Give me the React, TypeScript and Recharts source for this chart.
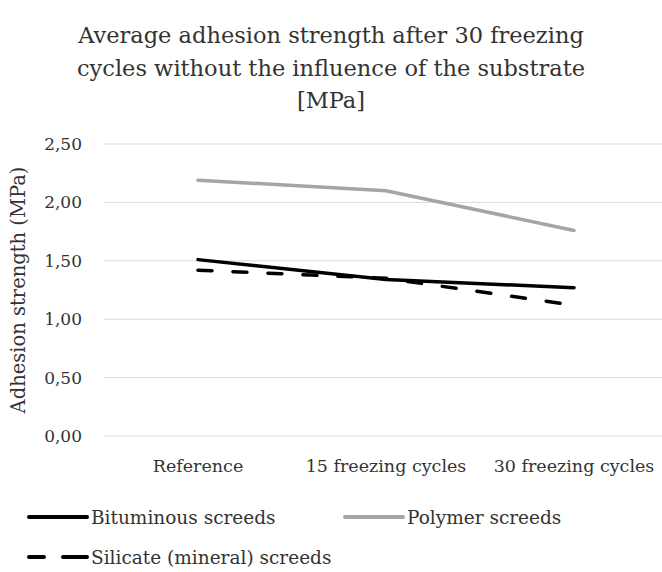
// line chart: adhesion strength of screeds after freezing cycles
import * as React from 'react';
import { LineChart, Line, XAxis, YAxis, CartesianGrid } from 'recharts';

const categories = ['Reference', '15 freezing cycles', '30 freezing cycles'];
const bituminous = [1.51, 1.34, 1.27];
const polymer = [2.19, 2.1, 1.76];
const silicate = [1.42, 1.35, 1.12];
const yTicks = [0, 0.5, 1, 1.5, 2, 2.5];

const series = [
  { key: 'bituminous', name: 'Bituminous screeds', color: '#000000', dash: undefined },
  { key: 'polymer', name: 'Polymer screeds', color: '#a5a5a5', dash: undefined },
  { key: 'silicate', name: 'Silicate (mineral) screeds', color: '#000000', dash: '14 21' },
];

const FONT = '"DejaVu Serif", serif';
const TEXT = '#333333';

const data = categories.map((name, i) => ({
  name,
  bituminous: bituminous[i],
  polymer: polymer[i],
  silicate: silicate[i],
}));

// legend placed by hand, two rows like the original
function LegendBox() {
  const pos = [
    { left: 25, top: 505 },
    { left: 341, top: 505 },
    { left: 25, top: 545 },
  ];
  return (
    <>
      {series.map((s, i) => (
        <div
          key={s.key}
          style={{
            position: 'absolute',
            left: pos[i].left,
            top: pos[i].top,
            height: 24,
            display: 'flex',
            alignItems: 'center',
            fontFamily: FONT,
            fontSize: 18.5,
            color: TEXT,
            whiteSpace: 'nowrap',
          }}
        >
          <svg width={66} height={10}>
            <line
              x1={4}
              y1={5}
              x2={62}
              y2={5}
              stroke={s.color}
              strokeWidth={4}
              strokeLinecap="round"
              strokeDasharray={s.dash ? '15 19 24' : undefined}
            />
          </svg>
          <span>{s.name}</span>
        </div>
      ))}
    </>
  );
}

export default function App() {
  return (
    <div style={{ position: 'absolute', left: 0, top: 0, width: 662, height: 572, background: '#fff', overflow: 'hidden' }}>
      <div
        style={{
          position: 'absolute',
          top: 19,
          left: 0,
          width: 662,
          textAlign: 'center',
          fontFamily: FONT,
          fontSize: 22.5,
          lineHeight: '32.5px',
          color: TEXT,
        }}
      >
        Average adhesion strength after 30 freezing
        <br />
        cycles without the influence of the substrate
        <br />
        [MPa]
      </div>
      <LineChart
        width={662}
        height={572}
        data={data}
        margin={{ top: 144, right: 0, bottom: 76, left: 0 }}
        style={{ fontFamily: FONT }}
      >
        <CartesianGrid vertical={false} stroke="#d9d9d9" strokeWidth={1} />
        <XAxis
          dataKey="name"
          axisLine={false}
          tickLine={false}
          tickSize={0}
          tickMargin={24}
          height={60}
          padding={{ left: 94, right: 88 }}
          interval={0}
          tick={{ fill: TEXT, fontSize: 17.5 }}
        />
        <YAxis
          domain={[0, 2.5]}
          ticks={yTicks}
          width={104}
          axisLine={false}
          tickLine={false}
          tickSize={0}
          tickMargin={22}
          tickFormatter={(v: number) => v.toFixed(2).replace('.', ',')}
          tick={{ fill: TEXT, fontSize: 17 }}
          label={{
            value: 'Adhesion strength (MPa)',
            angle: -90,
            position: 'insideLeft',
            offset: 18,
            style: { textAnchor: 'middle', fill: TEXT, fontSize: 19.5 },
          }}
        />
        {series.map((s) => (
          <Line
            key={s.key}
            type="linear"
            dataKey={s.key}
            name={s.name}
            stroke={s.color}
            strokeWidth={3.5}
            strokeDasharray={s.dash}
            strokeLinecap="round"
            dot={false}
            isAnimationActive={false}
          />
        ))}
      </LineChart>
      <LegendBox />
    </div>
  );
}
